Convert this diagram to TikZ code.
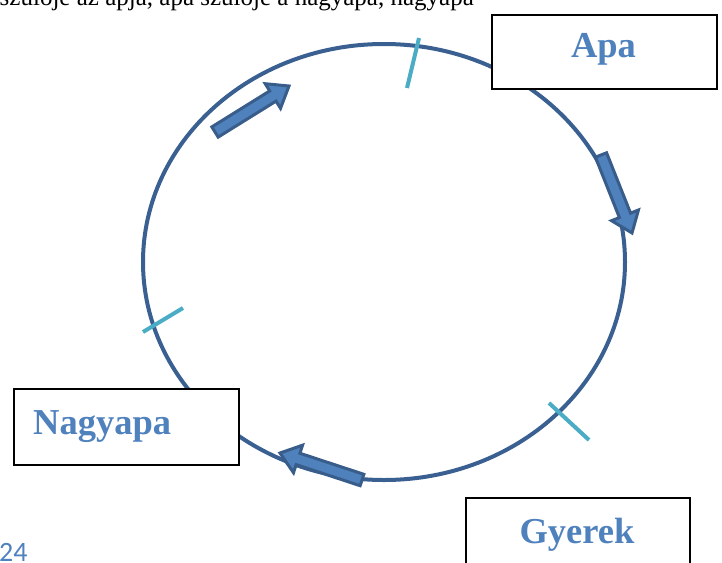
\documentclass[tikz,border=0pt]{standalone}
\usepackage{fontspec}
\setmainfont{Liberation Serif}
\newfontfamily\digitfont{Carlito}
\usetikzlibrary{calc}
\definecolor{ringblue}{HTML}{3A5F91}
\definecolor{arrowfill}{HTML}{4F81BD}
\definecolor{arrowedge}{HTML}{385D8A}
\definecolor{tickcyan}{HTML}{4BACC6}
\definecolor{labelblue}{HTML}{4F81BD}
\newcommand{\blkarrow}[2]{%
  \path ($(#2)!19pt!(#1)$) coordinate (hd);
  \filldraw[barrow] ($(#1)!6pt!90:(#2)$) -- ($(hd)!6pt!90:(#2)$) -- ($(hd)!14.5pt!90:(#2)$)
    -- (#2) -- ($(hd)!14.5pt!-90:(#2)$) -- ($(hd)!6pt!-90:(#2)$) -- ($(#1)!6pt!-90:(#2)$) -- cycle;
}
\begin{document}
\begin{tikzpicture}[x=1pt,y=-1pt,
  ring/.style={draw=ringblue, line width=4pt},
  tickmark/.style={draw=tickcyan, line width=4pt},
  barrow/.style={fill=arrowfill, draw=arrowedge, line width=3pt, line join=miter},
  box/.style={draw=black, line width=2pt, fill=white, inner sep=0pt},
  lbl/.style={inner sep=0pt, text=labelblue, font=\fontsize{36.5}{40}\selectfont\bfseries}]
\useasboundingbox (0,0) rectangle (722,562);
\clip (0,0) rectangle (722,562);
\fill[white] (0,0) rectangle (722,562);
% top clipped text line
\node[anchor=base east, inner sep=0pt, font=\fontsize{25}{30}\selectfont] (toptext) at (474,5.2) {szülője az apja, apa szülője a nagyapa, nagyapa};
% ring
\draw[ring] (384,262) ellipse [x radius=241, y radius=218];
% ticks
\coordinate (t1a) at (419,38);  \coordinate (t1b) at (407,88);
\coordinate (t2a) at (143,332); \coordinate (t2b) at (183,308);
\coordinate (t3a) at (549,403); \coordinate (t3b) at (589,440);
\draw[tickmark] (t1a) -- (t1b);
\draw[tickmark] (t2a) -- (t2b);
\draw[tickmark] (t3a) -- (t3b);
% arrows
\coordinate (a1) at (215,132); \coordinate (b1) at (289,86);
\coordinate (a2) at (601,155); \coordinate (b2) at (632,233);
\coordinate (a3) at (362,480); \coordinate (b3) at (280,453);
\blkarrow{a1}{b1}
\blkarrow{a2}{b2}
\blkarrow{a3}{b3}
% boxes
\node[box, minimum width=225pt, minimum height=74pt, anchor=north west] (apabox) at (491,14) {};
\node[box, minimum width=225pt, minimum height=76pt, anchor=north west] (nagybox) at (13,388) {};
\node[box, minimum width=224pt, minimum height=76pt, anchor=north west] (gyerbox) at (465,497) {};
\node[lbl, anchor=base] (apalbl) at (603.5,57) {Apa};
\node[lbl, anchor=base west] (nagylbl) at (33,434) {Nagyapa};
\node[lbl, anchor=base] (gyerlbl) at (577,543) {Gyerek};
% page number
\node[anchor=base west, inner sep=0pt, text=labelblue, font=\digitfont\fontsize{28}{30}\selectfont] (pagenum) at (-1,561) {24};
\end{tikzpicture}
\end{document}
